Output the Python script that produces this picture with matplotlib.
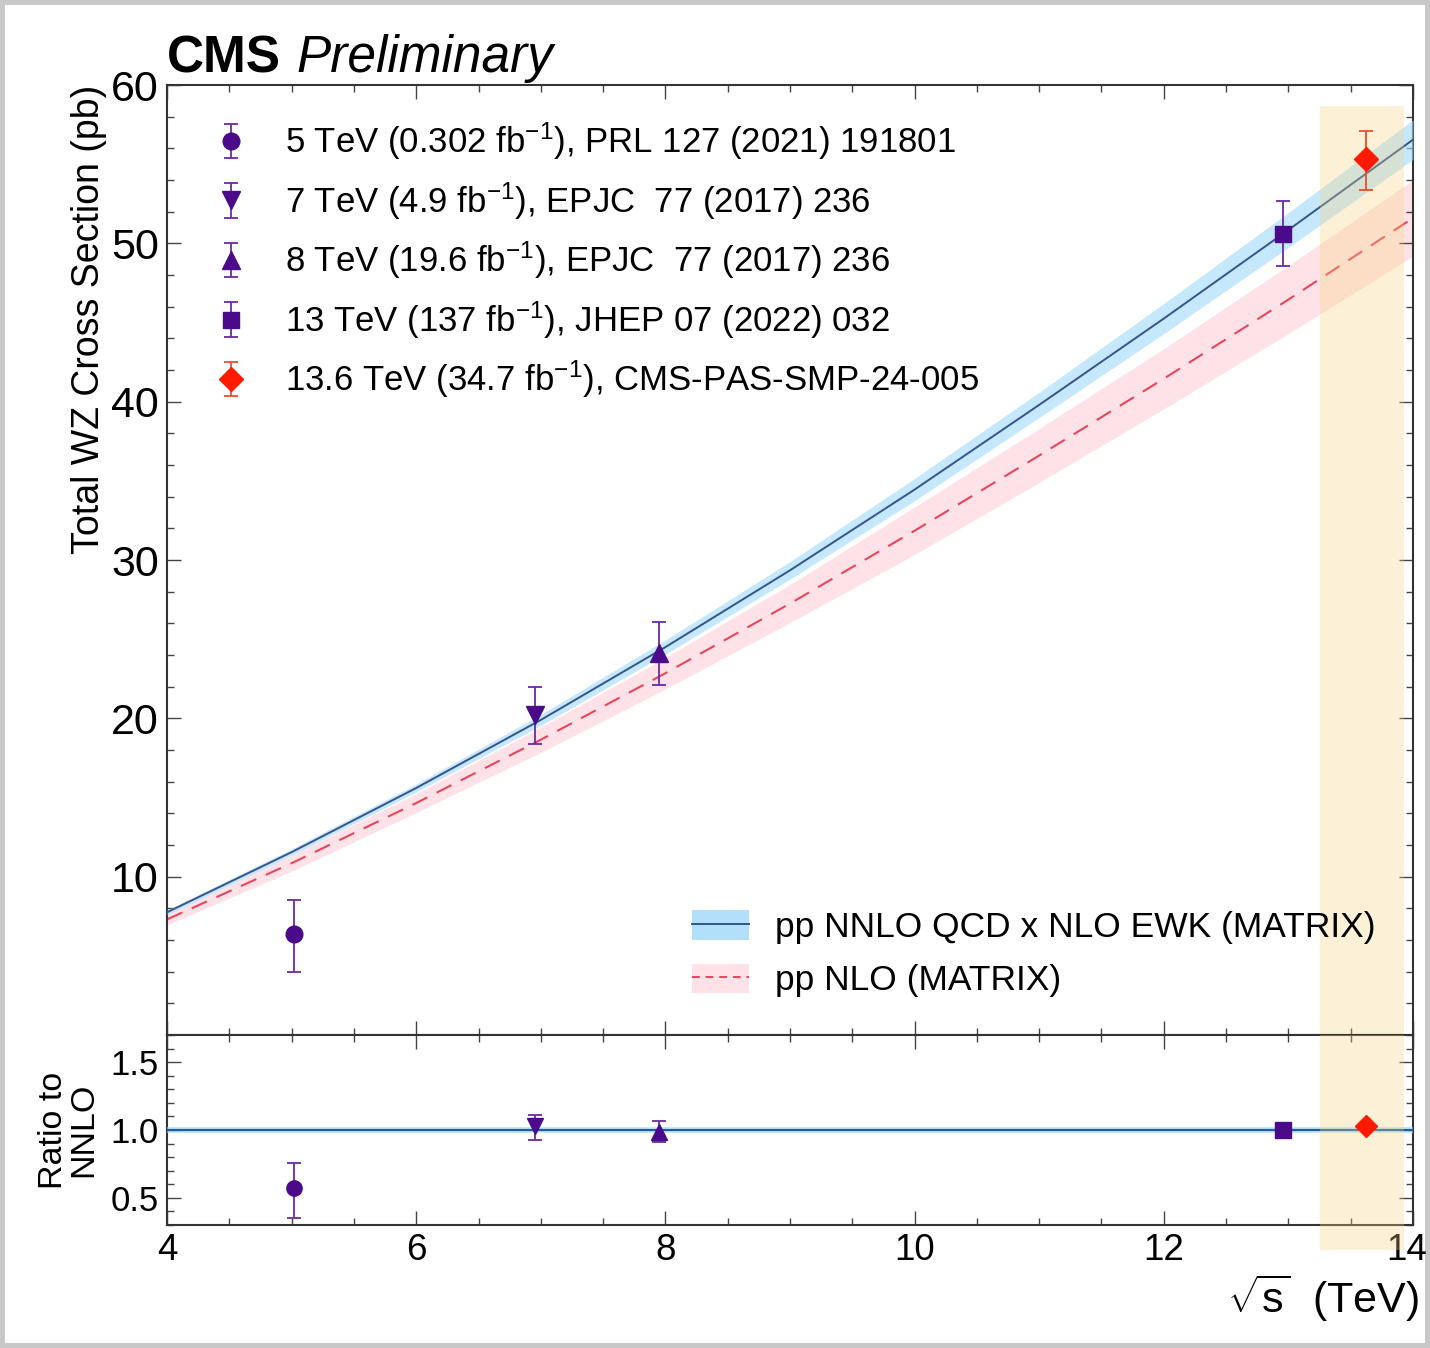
import numpy as np
import matplotlib
matplotlib.use('Agg')
import matplotlib.pyplot as plt
from matplotlib.ticker import MultipleLocator, FormatStrFormatter
from matplotlib.patches import Patch
from matplotlib.lines import Line2D
from matplotlib.transforms import ScaledTranslation

plt.rcParams['font.family'] = ['Liberation Sans', 'DejaVu Sans']
plt.rcParams['mathtext.fontset'] = 'custom'
plt.rcParams['mathtext.rm'] = 'Liberation Sans'
plt.rcParams['mathtext.it'] = 'Liberation Sans:italic'
plt.rcParams['mathtext.bf'] = 'Liberation Sans:bold'

# measurements (x slightly offset as in the original plot)
labels = [r'5 TeV (0.302 fb$^{-1}$), PRL 127 (2021) 191801',
          r'7 TeV (4.9 fb$^{-1}$), EPJC  77 (2017) 236',
          r'8 TeV (19.6 fb$^{-1}$), EPJC  77 (2017) 236',
          r'13 TeV (137 fb$^{-1}$), JHEP 07 (2022) 032',
          r'13.6 TeV (34.7 fb$^{-1}$), CMS-PAS-SMP-24-005']
sqrt_s = [5.02, 6.95, 7.95, 12.96, 13.62]
xsec = [6.4, 20.2, 24.1, 50.6, 55.3]
xsec_up = [2.1, 1.8, 2.0, 2.1, 1.8]
xsec_dn = [2.4, 1.8, 2.0, 2.0, 1.9]
ratio = [0.57, 1.03, 0.985, 1.0, 1.03]
ratio_up = [0.19, 0.08, 0.085, 0.02, 0.02]
ratio_dn = [0.22, 0.10, 0.075, 0.02, 0.02]
markers = ['o', 'v', '^', 's', 'D']
msizes = [12, 13, 13, 12, 12]
mcolors = ['#4a0a8a', '#4a0a8a', '#4a0a8a', '#4a0a8a', '#ff1a00']
ecolors = ['#6a2aa8', '#6a2aa8', '#6a2aa8', '#6a2aa8', '#f04a2a']

# theory curves
th_x = [4, 5, 6, 7, 8, 9, 10, 11, 12, 13, 14]
nnlo = [7.75, 11.55, 15.6, 19.9, 24.5, 29.35, 34.45, 39.8, 45.25, 50.85, 56.55]
nnlo_err = [0.15, 0.2, 0.25, 0.35, 0.45, 0.55, 0.7, 0.8, 0.95, 1.1, 1.25]
nlo = [7.3, 10.85, 14.65, 18.65, 22.85, 27.25, 31.85, 36.6, 41.45, 46.45, 51.6]
nlo_err = [0.35, 0.5, 0.6, 0.8, 1.0, 1.2, 1.5, 1.7, 1.9, 2.15, 2.4]
ratio_band = 0.02

band_x = (13.25, 13.93)
x_ticks = [4, 6, 8, 10, 12, 14]

fig = plt.figure(figsize=(14.3, 13.48), dpi=100)
fig.patch.set_edgecolor('#c8c8c8')
fig.patch.set_linewidth(6)
ax = fig.add_axes([0.1168, 0.2322, 0.8713, 0.7047])
rax = fig.add_axes([0.1168, 0.0912, 0.8713, 0.1410], sharex=ax)

th_x = np.array(th_x)
nnlo = np.array(nnlo)
nlo = np.array(nlo)
nnlo_err = np.array(nnlo_err)
nlo_err = np.array(nlo_err)

ax.fill_between(th_x, nlo - nlo_err, nlo + nlo_err, color='#ffdfe6', alpha=0.9, lw=0, zorder=1)
ax.plot(th_x, nlo, color='#e8455a', lw=1.5, ls=(0, (8, 5)), zorder=2)
ax.fill_between(th_x, nnlo - nnlo_err, nnlo + nnlo_err, color='#9fd9fb', alpha=0.6, lw=0, zorder=3)
ax.plot(th_x, nnlo, color='#34548e', lw=1.4, zorder=4)

ax.axvspan(band_x[0], band_x[1], ymin=0, ymax=58.7 / 60, color='#f7d27a', alpha=0.3, lw=0, zorder=5)
rax.axvspan(band_x[0], band_x[1], ymin=-0.13, ymax=1.0, color='#f7d27a', alpha=0.3, lw=0,
            zorder=5, clip_on=False)

handles = []
for i in range(len(sqrt_s)):
    h = ax.errorbar(sqrt_s[i], xsec[i], yerr=[[xsec_dn[i]], [xsec_up[i]]], fmt=markers[i],
                    ms=msizes[i], color=mcolors[i], ecolor=ecolors[i], elinewidth=1.3,
                    capsize=5, capthick=1.3, zorder=6, label=labels[i])
    handles.append(h)
    rax.errorbar(sqrt_s[i], ratio[i], yerr=[[ratio_dn[i]], [ratio_up[i]]], fmt=markers[i],
                 ms=msizes[i] - 1, color=mcolors[i], ecolor=ecolors[i], elinewidth=1.3,
                 capsize=5, capthick=1.3, zorder=6)

leg1 = ax.legend(handles=handles, loc='upper left', bbox_to_anchor=(0.018, 0.988), frameon=False,
                 fontsize=25, handlelength=1.0, handletextpad=1.05, labelspacing=0.52,
                 borderaxespad=0.3)
ax.add_artist(leg1)

th_handles = [(Patch(facecolor='#9fd9fb', alpha=0.8, lw=0), Line2D([], [], color='#34548e', lw=1.4)),
              (Patch(facecolor='#ffdfe6', alpha=0.9, lw=0), Line2D([], [], color='#e8455a', lw=1.4, ls=(0, (4, 3))))]
ax.legend(handles=th_handles, labels=['pp NNLO QCD x NLO EWK (MATRIX)', 'pp NLO (MATRIX)'],
          loc='lower right', bbox_to_anchor=(0.996, 0.006), frameon=False, fontsize=25.5,
          handlelength=1.6, handleheight=0.9, handletextpad=0.75, labelspacing=0.55)

rax.fill_between([4, 14], 1 - ratio_band, 1 + ratio_band, color='#9fd9fb', alpha=0.6, lw=0, zorder=3)
rax.axhline(1.0, color='#1f5aa6', lw=1.6, zorder=4)

ax.set_xlim(4, 14)
ax.set_ylim(0, 60)
rax.set_ylim(0.3, 1.7)

for a in (ax, rax):
    a.tick_params(which='both', direction='in', top=True, right=True, width=1.0, colors='#444444',
                  labelcolor='black')
    a.tick_params(which='major', length=10)
    a.tick_params(which='minor', length=5)
    a.xaxis.set_minor_locator(MultipleLocator(0.5))
    for s in a.spines.values():
        s.set_linewidth(1.5)
        s.set_color('#333333')

ax.yaxis.set_major_locator(MultipleLocator(10))
ax.yaxis.set_minor_locator(MultipleLocator(2))
ax.tick_params(axis='y', labelsize=31, pad=6)
ax.tick_params(axis='x', labelbottom=False)
ax.set_yticks([10, 20, 30, 40, 50, 60])

rax.yaxis.set_major_locator(MultipleLocator(0.5))
rax.yaxis.set_minor_locator(MultipleLocator(0.1))
rax.yaxis.set_major_formatter(FormatStrFormatter('%.1f'))
rax.tick_params(axis='y', labelsize=25, pad=6)
rax.tick_params(axis='x', labelsize=26.5, pad=6)
rax.set_xticks(x_ticks)

# nudge the last tick label a little so it stays inside the canvas
last = rax.xaxis.get_major_ticks()[-1].label1
last.set_transform(last.get_transform() + ScaledTranslation(-6 / 100, 0, fig.dpi_scale_trans))

ax.set_ylabel('Total WZ Cross Section (pb)', fontsize=27)
ax.yaxis.set_label_coords(-0.048, 1.0, transform=ax.transAxes)
ax.yaxis.label.set_horizontalalignment('right')

rax.set_ylabel('Ratio to\nNNLO', fontsize=24.5, linespacing=1.0)
rax.yaxis.set_label_coords(-0.054, 0.5)

rax.set_xlabel(r'$\sqrt{\mathrm{s}}$  (TeV)', fontsize=31)
rax.xaxis.set_label_coords(1.005, -0.25)
rax.xaxis.label.set_horizontalalignment('right')

ax.text(0.0, 1.0137, 'CMS', transform=ax.transAxes, fontsize=37, fontweight='bold',
        ha='left', va='baseline')
ax.text(0.104, 1.0137, 'Preliminary', transform=ax.transAxes, fontsize=37, fontstyle='italic',
        ha='left', va='baseline')

fig.savefig('out.png', dpi=100)
